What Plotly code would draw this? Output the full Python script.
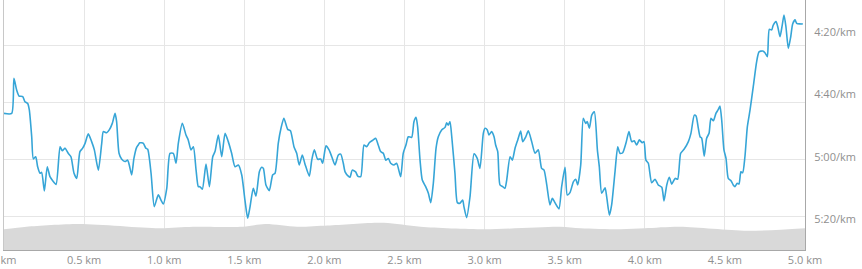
import plotly.graph_objects as go

# Pace line: distance (km) and pace (seconds per km)
dist_km = [0.000, 0.048, 0.062, 0.079, 0.094, 0.117, 0.131, 0.148, 0.158, 0.173,
           0.183, 0.198, 0.210, 0.225, 0.235, 0.252, 0.270, 0.287, 0.304, 0.325,
           0.350, 0.364, 0.381, 0.401, 0.418, 0.437, 0.454, 0.474, 0.491, 0.506,
           0.526, 0.547, 0.564, 0.589, 0.610, 0.620, 0.641, 0.657, 0.676, 0.693,
           0.703, 0.718, 0.735, 0.755, 0.772, 0.782, 0.797, 0.811, 0.828, 0.838,
           0.848, 0.870, 0.885, 0.897, 0.918, 0.938, 0.963, 0.980, 0.994, 1.016,
           1.036, 1.057, 1.074, 1.088, 1.113, 1.136, 1.150, 1.167, 1.182, 1.199,
           1.213, 1.223, 1.238, 1.261, 1.282, 1.303, 1.317, 1.338, 1.359, 1.380,
           1.400, 1.421, 1.442, 1.463, 1.484, 1.504, 1.521, 1.536, 1.556, 1.573,
           1.594, 1.609, 1.619, 1.635, 1.656, 1.677, 1.692, 1.712, 1.729, 1.747,
           1.771, 1.788, 1.810, 1.827, 1.843, 1.862, 1.879, 1.906, 1.921, 1.937,
           1.958, 1.977, 1.989, 2.010, 2.029, 2.046, 2.066, 2.087, 2.102, 2.118,
           2.129, 2.149, 2.160, 2.174, 2.195, 2.208, 2.227, 2.247, 2.264, 2.280,
           2.305, 2.320, 2.336, 2.351, 2.368, 2.383, 2.399, 2.414, 2.434, 2.451,
           2.476, 2.492, 2.509, 2.524, 2.545, 2.559, 2.572, 2.582, 2.597, 2.611,
           2.632, 2.649, 2.664, 2.680, 2.697, 2.711, 2.732, 2.753, 2.763, 2.773,
           2.784, 2.795, 2.815, 2.830, 2.846, 2.863, 2.871, 2.888, 2.909, 2.934,
           2.954, 2.971, 2.992, 3.003, 3.017, 3.027, 3.044, 3.059, 3.069, 3.082,
           3.096, 3.113, 3.127, 3.138, 3.159, 3.173, 3.190, 3.207, 3.225, 3.238,
           3.257, 3.273, 3.294, 3.315, 3.335, 3.356, 3.371, 3.388, 3.408, 3.423,
           3.439, 3.464, 3.481, 3.502, 3.516, 3.533, 3.554, 3.569, 3.581, 3.600,
           3.616, 3.631, 3.641, 3.654, 3.669, 3.685, 3.704, 3.716, 3.731, 3.752,
           3.762, 3.779, 3.793, 3.814, 3.831, 3.845, 3.862, 3.883, 3.901, 3.918,
           3.934, 3.949, 3.966, 3.984, 3.995, 4.007, 4.022, 4.043, 4.064, 4.084,
           4.106, 4.120, 4.137, 4.153, 4.168, 4.189, 4.205, 4.224, 4.245, 4.272,
           4.288, 4.309, 4.320, 4.334, 4.345, 4.355, 4.371, 4.386, 4.401, 4.413,
           4.428, 4.444, 4.459, 4.469, 4.480, 4.494, 4.507, 4.521, 4.538, 4.552,
           4.563, 4.577, 4.588, 4.600, 4.611, 4.625, 4.640, 4.657, 4.677, 4.698,
           4.713, 4.736, 4.750, 4.765, 4.777, 4.792, 4.802, 4.819, 4.830, 4.844,
           4.858, 4.869, 4.881, 4.896, 4.911, 4.923, 4.938, 4.948, 4.969, 4.986]

pace_s = [284.0, 284.0, 271.7, 275.8, 277.9, 278.1, 279.9, 280.5, 282.8, 292.2,
          300.0, 299.2, 302.7, 305.0, 304.7, 311.2, 302.7, 306.2, 307.6, 308.9,
          295.7, 297.1, 296.2, 298.0, 299.2, 305.0, 306.8, 297.4, 296.2, 294.5,
          291.2, 293.9, 296.8, 303.9, 294.5, 290.4, 290.8, 289.8, 287.5, 284.0,
          286.9, 298.0, 300.1, 300.9, 300.4, 302.1, 305.6, 299.8, 295.9, 295.1,
          294.3, 294.5, 296.2, 296.6, 305.0, 316.7, 312.6, 314.4, 315.8, 310.3,
          298.0, 298.0, 301.5, 294.5, 287.5, 291.6, 293.3, 296.8, 295.7, 303.9,
          309.7, 309.7, 310.6, 301.8, 309.7, 299.2, 297.4, 291.6, 299.2, 291.0,
          293.9, 298.0, 302.7, 302.1, 305.6, 314.4, 320.8, 316.7, 310.3, 313.0,
          304.5, 302.9, 303.3, 309.1, 311.1, 305.6, 305.0, 294.5, 289.2, 285.7,
          289.6, 290.1, 295.7, 298.0, 302.1, 298.6, 301.8, 306.0, 300.4, 296.8,
          300.1, 300.0, 301.5, 295.4, 296.8, 299.2, 302.1, 298.6, 298.3, 301.5,
          304.5, 306.0, 306.4, 303.9, 304.5, 306.0, 306.2, 295.1, 295.7, 294.3,
          293.3, 292.7, 295.1, 297.4, 298.0, 300.4, 299.8, 301.5, 302.1, 301.5,
          306.2, 298.0, 295.1, 292.2, 292.4, 286.9, 285.4, 288.7, 300.4, 307.4,
          309.7, 312.0, 315.3, 308.5, 296.2, 292.2, 289.8, 288.9, 287.3, 288.1,
          286.9, 292.2, 305.0, 315.3, 315.5, 314.4, 316.7, 320.6, 313.2, 298.2,
          299.8, 303.3, 291.0, 289.2, 289.8, 291.6, 290.4, 292.2, 295.1, 297.4,
          309.1, 309.7, 310.3, 307.4, 299.2, 300.4, 296.2, 293.3, 290.2, 293.9,
          292.2, 290.1, 293.9, 298.0, 296.8, 303.3, 303.9, 309.1, 316.1, 313.8,
          315.3, 317.5, 309.7, 302.9, 312.6, 311.8, 308.0, 307.1, 309.1, 302.1,
          285.7, 287.5, 286.9, 289.2, 284.6, 283.4, 296.8, 302.7, 312.0, 310.1,
          313.2, 319.7, 316.1, 304.5, 295.7, 298.0, 297.8, 294.3, 290.4, 293.9,
          293.6, 295.1, 293.3, 294.3, 293.9, 300.4, 301.5, 308.3, 307.1, 309.1,
          309.9, 314.7, 309.1, 306.4, 308.8, 306.8, 307.1, 298.0, 296.6, 293.9,
          291.0, 284.6, 284.9, 289.2, 292.2, 292.7, 299.0, 292.7, 291.0, 285.7,
          286.6, 284.0, 282.6, 281.4, 286.3, 296.8, 299.8, 306.8, 307.6, 309.1,
          309.7, 308.5, 308.8, 304.5, 304.8, 299.2, 288.7, 282.8, 274.6, 265.9,
          262.4, 262.1, 262.7, 264.1, 254.5, 254.7, 253.0, 251.8, 253.6, 257.1,
          253.0, 249.5, 253.6, 261.2, 257.1, 252.6, 251.2, 252.4, 252.6, 252.6]

# Elevation profile (relative units)
elev_km = [0.00, 0.14, 0.47, 0.97, 1.18, 1.49, 1.63, 1.83, 2.02, 2.37,
           2.60, 3.00, 3.47, 3.60, 3.85, 4.00, 4.22, 4.64, 5.00]
elev_m = [8.3, 9.3, 10.4, 8.7, 9.3, 9.3, 10.4, 9.3, 9.8, 10.9,
          9.3, 8.3, 9.3, 8.7, 8.3, 8.7, 9.3, 7.7, 8.7]

# Axis ticks
x_tickvals = [0, 0.5, 1.0, 1.5, 2.0, 2.5, 3.0, 3.5, 4.0, 4.5, 5.0]
x_ticktext = ["0 km", "0.5 km", "1.0 km", "1.5 km", "2.0 km", "2.5 km",
              "3.0 km", "3.5 km", "4.0 km", "4.5 km", "5.0 km"]
grid_pace = [260, 280, 300, 320]
label_pace = [260, 280, 300, 320]
label_text = ["4:20/km", "4:40/km", "5:00/km", "5:20/km"]

FONT = "Open Sans"
LABEL_COLOR = "#8f8f8f"

fig = go.Figure()

fig.add_trace(go.Scatter(
    x=elev_km, y=elev_m, yaxis="y3", mode="lines",
    line=dict(color="#d9d9d9", width=0, shape="spline", smoothing=0.8),
    fill="tozeroy", fillcolor="#d9d9d9", hoverinfo="skip", showlegend=False,
))

fig.add_trace(go.Scatter(
    x=dist_km, y=pace_s, yaxis="y", mode="lines",
    line=dict(color="#36a5d7", width=1.6, shape="spline", smoothing=0.6),
    showlegend=False,
))

# dummy trace to carry the labelled right axis
fig.add_trace(go.Scatter(
    x=[dist_km[0]], y=[label_pace[0]], yaxis="y2", mode="markers",
    marker=dict(opacity=0), hoverinfo="skip", showlegend=False,
))

fig.update_layout(
    width=862, height=269,
    margin=dict(l=4, r=57, t=0, b=19),
    paper_bgcolor="white", plot_bgcolor="white",
    font=dict(family=FONT, size=11, color=LABEL_COLOR),
    xaxis=dict(
        range=[0, 5.0], tickvals=x_tickvals, ticktext=x_ticktext,
        showgrid=True, gridcolor="#e6e6e6", gridwidth=1,
        zeroline=False, showline=True, linecolor="#a8a8a8", linewidth=1,
        ticks="", tickfont=dict(family=FONT, size=11, color=LABEL_COLOR),
        ticklabeloverflow="allow",
        automargin=False, fixedrange=True,
    ),
    yaxis=dict(
        range=[331.93, 244.21], tickvals=grid_pace, showticklabels=False,
        showgrid=True, gridcolor="#e6e6e6", gridwidth=1, zeroline=False,
        showline=True, linecolor="#c8c8c8", linewidth=1, ticks="",
        automargin=False, fixedrange=True,
    ),
    yaxis2=dict(
        overlaying="y", side="right", anchor="x",
        range=[329.95, 249.73], tickvals=label_pace, ticktext=label_text,
        showgrid=False, zeroline=False, showline=True, linecolor="#a8a8a8",
        linewidth=1, ticks="", ticklabelstandoff=6,
        tickfont=dict(family=FONT, size=11, color=LABEL_COLOR),
        automargin=False, fixedrange=True,
    ),
    yaxis3=dict(
        overlaying="y", range=[0, 100], visible=False, fixedrange=True,
    ),
)

fig.write_html("out.html")
